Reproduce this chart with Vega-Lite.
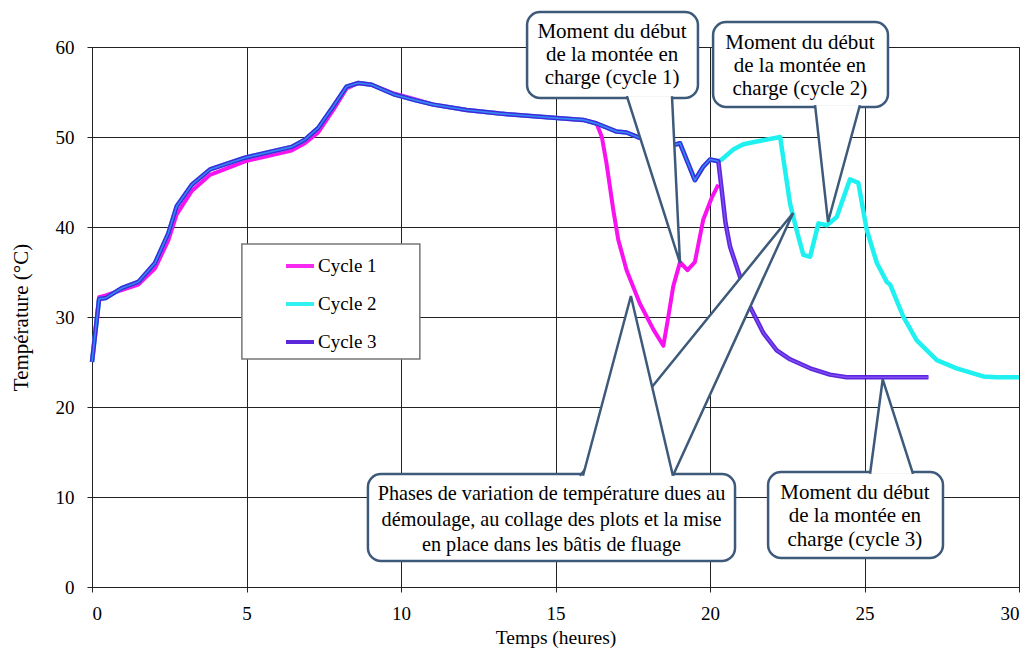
{
  "$schema": "https://vega.github.io/schema/vega-lite/v6.json",
  "width": 927,
  "height": 540,
  "autosize": "none",
  "padding": {"left": 92, "top": 47, "right": 10, "bottom": 68},
  "background": "white",
  "config": {
    "font": "Liberation Serif",
    "view": {"stroke": "#222"},
    "axis": {
      "labelFont": "Liberation Serif", "labelFontSize": 19, "labelColor": "#000",
      "titleFont": "Liberation Serif", "titleFontWeight": "normal", "titleColor": "#000",
      "gridColor": "#222", "gridWidth": 1, "gridOpacity": 1,
      "domainColor": "#222", "tickColor": "#222", "tickSize": 5
    }
  },
  "datasets": {
    "curves": [
      {"t":0,"temp":25.0,"cycle":"Cycle 1"},{"t":0.23,"temp":32.2,"cycle":"Cycle 1"},{"t":0.44,"temp":32.4,"cycle":"Cycle 1"},{"t":0.96,"temp":33.0,"cycle":"Cycle 1"},{"t":1.5,"temp":33.6,"cycle":"Cycle 1"},{"t":2.04,"temp":35.4,"cycle":"Cycle 1"},{"t":2.47,"temp":38.5,"cycle":"Cycle 1"},{"t":2.74,"temp":41.4,"cycle":"Cycle 1"},{"t":3.23,"temp":44.0,"cycle":"Cycle 1"},{"t":3.82,"temp":45.8,"cycle":"Cycle 1"},{"t":4.95,"temp":47.3,"cycle":"Cycle 1"},{"t":6.46,"temp":48.5,"cycle":"Cycle 1"},{"t":6.89,"temp":49.3,"cycle":"Cycle 1"},{"t":7.32,"temp":50.5,"cycle":"Cycle 1"},{"t":7.81,"temp":53.0,"cycle":"Cycle 1"},{"t":8.24,"temp":55.4,"cycle":"Cycle 1"},{"t":8.62,"temp":56.0,"cycle":"Cycle 1"},{"t":9.05,"temp":55.8,"cycle":"Cycle 1"},{"t":9.8,"temp":54.8,"cycle":"Cycle 1"},{"t":10.45,"temp":54.2,"cycle":"Cycle 1"},{"t":11.05,"temp":53.6,"cycle":"Cycle 1"},{"t":12.12,"temp":53.0,"cycle":"Cycle 1"},{"t":13.2,"temp":52.6,"cycle":"Cycle 1"},{"t":15.04,"temp":52.1,"cycle":"Cycle 1"},{"t":15.9,"temp":51.9,"cycle":"Cycle 1"},{"t":16.33,"temp":51.5,"cycle":"Cycle 1"},{"t":16.5,"temp":50.0,"cycle":"Cycle 1"},{"t":16.65,"temp":47.1,"cycle":"Cycle 1"},{"t":16.87,"temp":41.9,"cycle":"Cycle 1"},{"t":17.03,"temp":38.6,"cycle":"Cycle 1"},{"t":17.3,"temp":35.2,"cycle":"Cycle 1"},{"t":17.73,"temp":31.5,"cycle":"Cycle 1"},{"t":18.17,"temp":28.6,"cycle":"Cycle 1"},{"t":18.49,"temp":26.8,"cycle":"Cycle 1"},{"t":18.65,"temp":30.0,"cycle":"Cycle 1"},{"t":18.81,"temp":33.4,"cycle":"Cycle 1"},{"t":19.03,"temp":36.1,"cycle":"Cycle 1"},{"t":19.27,"temp":35.2,"cycle":"Cycle 1"},{"t":19.51,"temp":36.1,"cycle":"Cycle 1"},{"t":19.78,"temp":40.8,"cycle":"Cycle 1"},{"t":20.05,"temp":43.2,"cycle":"Cycle 1"},{"t":20.27,"temp":44.7,"cycle":"Cycle 1"},

      {"t":0,"temp":25.0,"cycle":"Cycle 2"},{"t":0.23,"temp":32.0,"cycle":"Cycle 2"},{"t":0.44,"temp":32.1,"cycle":"Cycle 2"},{"t":0.96,"temp":33.2,"cycle":"Cycle 2"},{"t":1.5,"temp":33.9,"cycle":"Cycle 2"},{"t":2.04,"temp":36.0,"cycle":"Cycle 2"},{"t":2.47,"temp":39.3,"cycle":"Cycle 2"},{"t":2.74,"temp":42.3,"cycle":"Cycle 2"},{"t":3.23,"temp":44.7,"cycle":"Cycle 2"},{"t":3.82,"temp":46.4,"cycle":"Cycle 2"},{"t":4.95,"temp":47.7,"cycle":"Cycle 2"},{"t":6.46,"temp":48.9,"cycle":"Cycle 2"},{"t":6.89,"temp":49.7,"cycle":"Cycle 2"},{"t":7.32,"temp":51.0,"cycle":"Cycle 2"},{"t":7.81,"temp":53.4,"cycle":"Cycle 2"},{"t":8.24,"temp":55.6,"cycle":"Cycle 2"},{"t":8.62,"temp":56.0,"cycle":"Cycle 2"},{"t":9.05,"temp":55.8,"cycle":"Cycle 2"},{"t":9.8,"temp":54.7,"cycle":"Cycle 2"},{"t":10.45,"temp":54.1,"cycle":"Cycle 2"},{"t":11.05,"temp":53.6,"cycle":"Cycle 2"},{"t":12.12,"temp":53.0,"cycle":"Cycle 2"},{"t":13.2,"temp":52.6,"cycle":"Cycle 2"},{"t":15.04,"temp":52.1,"cycle":"Cycle 2"},{"t":15.9,"temp":51.9,"cycle":"Cycle 2"},{"t":16.33,"temp":51.5,"cycle":"Cycle 2"},{"t":16.98,"temp":50.6,"cycle":"Cycle 2"},{"t":17.3,"temp":50.5,"cycle":"Cycle 2"},{"t":17.73,"temp":49.9,"cycle":"Cycle 2"},{"t":18.3,"temp":49.5,"cycle":"Cycle 2"},{"t":18.81,"temp":49.1,"cycle":"Cycle 2"},{"t":19.03,"temp":49.3,"cycle":"Cycle 2"},{"t":19.51,"temp":45.2,"cycle":"Cycle 2"},{"t":19.78,"temp":46.7,"cycle":"Cycle 2"},{"t":20.0,"temp":47.5,"cycle":"Cycle 2"},{"t":20.27,"temp":47.3,"cycle":"Cycle 2"},{"t":20.38,"temp":47.5,"cycle":"Cycle 2"},{"t":20.75,"temp":48.6,"cycle":"Cycle 2"},{"t":21.08,"temp":49.2,"cycle":"Cycle 2"},{"t":21.51,"temp":49.5,"cycle":"Cycle 2"},{"t":22.27,"temp":50.0,"cycle":"Cycle 2"},{"t":22.59,"temp":42.6,"cycle":"Cycle 2"},{"t":22.8,"temp":39.7,"cycle":"Cycle 2"},{"t":23.02,"temp":36.9,"cycle":"Cycle 2"},{"t":23.24,"temp":36.7,"cycle":"Cycle 2"},{"t":23.51,"temp":40.4,"cycle":"Cycle 2"},{"t":23.78,"temp":40.2,"cycle":"Cycle 2"},{"t":24.1,"temp":41.1,"cycle":"Cycle 2"},{"t":24.53,"temp":45.3,"cycle":"Cycle 2"},{"t":24.8,"temp":44.9,"cycle":"Cycle 2"},{"t":25.07,"temp":39.7,"cycle":"Cycle 2"},{"t":25.4,"temp":36.0,"cycle":"Cycle 2"},{"t":25.72,"temp":33.9,"cycle":"Cycle 2"},{"t":25.83,"temp":33.6,"cycle":"Cycle 2"},{"t":26.26,"temp":30.0,"cycle":"Cycle 2"},{"t":26.69,"temp":27.4,"cycle":"Cycle 2"},{"t":27.34,"temp":25.2,"cycle":"Cycle 2"},{"t":27.98,"temp":24.3,"cycle":"Cycle 2"},{"t":28.84,"temp":23.4,"cycle":"Cycle 2"},{"t":29.28,"temp":23.3,"cycle":"Cycle 2"},{"t":30,"temp":23.3,"cycle":"Cycle 2"},

      {"t":0,"temp":25.0,"cycle":"Cycle 3"},{"t":0.23,"temp":32.0,"cycle":"Cycle 3"},{"t":0.44,"temp":32.1,"cycle":"Cycle 3"},{"t":0.96,"temp":33.2,"cycle":"Cycle 3"},{"t":1.5,"temp":33.9,"cycle":"Cycle 3"},{"t":2.04,"temp":36.0,"cycle":"Cycle 3"},{"t":2.47,"temp":39.3,"cycle":"Cycle 3"},{"t":2.74,"temp":42.3,"cycle":"Cycle 3"},{"t":3.23,"temp":44.7,"cycle":"Cycle 3"},{"t":3.82,"temp":46.4,"cycle":"Cycle 3"},{"t":4.95,"temp":47.7,"cycle":"Cycle 3"},{"t":6.46,"temp":48.9,"cycle":"Cycle 3"},{"t":6.89,"temp":49.7,"cycle":"Cycle 3"},{"t":7.32,"temp":51.0,"cycle":"Cycle 3"},{"t":7.81,"temp":53.4,"cycle":"Cycle 3"},{"t":8.24,"temp":55.6,"cycle":"Cycle 3"},{"t":8.62,"temp":56.0,"cycle":"Cycle 3"},{"t":9.05,"temp":55.8,"cycle":"Cycle 3"},{"t":9.8,"temp":54.7,"cycle":"Cycle 3"},{"t":10.45,"temp":54.1,"cycle":"Cycle 3"},{"t":11.05,"temp":53.6,"cycle":"Cycle 3"},{"t":12.12,"temp":53.0,"cycle":"Cycle 3"},{"t":13.2,"temp":52.6,"cycle":"Cycle 3"},{"t":15.04,"temp":52.1,"cycle":"Cycle 3"},{"t":15.9,"temp":51.9,"cycle":"Cycle 3"},{"t":16.33,"temp":51.5,"cycle":"Cycle 3"},{"t":16.98,"temp":50.6,"cycle":"Cycle 3"},{"t":17.3,"temp":50.5,"cycle":"Cycle 3"},{"t":17.73,"temp":49.9,"cycle":"Cycle 3"},{"t":18.3,"temp":49.5,"cycle":"Cycle 3"},{"t":18.81,"temp":49.1,"cycle":"Cycle 3"},{"t":19.03,"temp":49.3,"cycle":"Cycle 3"},{"t":19.51,"temp":45.2,"cycle":"Cycle 3"},{"t":19.78,"temp":46.7,"cycle":"Cycle 3"},{"t":20.0,"temp":47.5,"cycle":"Cycle 3"},{"t":20.27,"temp":47.3,"cycle":"Cycle 3"},{"t":20.4,"temp":43.5,"cycle":"Cycle 3"},{"t":20.5,"temp":40.5,"cycle":"Cycle 3"},{"t":20.65,"temp":37.8,"cycle":"Cycle 3"},{"t":20.97,"temp":34.5,"cycle":"Cycle 3"},{"t":21.3,"temp":31.1,"cycle":"Cycle 3"},{"t":21.73,"temp":28.2,"cycle":"Cycle 3"},{"t":22.16,"temp":26.3,"cycle":"Cycle 3"},{"t":22.59,"temp":25.3,"cycle":"Cycle 3"},{"t":23.24,"temp":24.3,"cycle":"Cycle 3"},{"t":23.88,"temp":23.6,"cycle":"Cycle 3"},{"t":24.42,"temp":23.3,"cycle":"Cycle 3"},{"t":27.07,"temp":23.3,"cycle":"Cycle 3"}
    ],
    "legendFrame": [
      {"x1":4.85,"x2":10.61,"y1":38.11,"y2":25.33}
    ],
    "boxes": [
      {"id":"c1","x1":14.08,"x2":19.61,"y1":63.89,"y2":54.33},
      {"id":"c2","x1":20.10,"x2":25.76,"y1":62.78,"y2":53.33},
      {"id":"c3","x1":8.93,"x2":20.81,"y1":12.56,"y2":2.89},
      {"id":"c4","x1":21.88,"x2":27.54,"y1":12.78,"y2":3.22}
    ],
    "wedgesBack": [
      {"id":"w3b","seq":0,"x":15.79,"y":12.36},{"id":"w3b","seq":1,"x":22.69,"y":41.56},{"id":"w3b","seq":2,"x":18.80,"y":12.36}
    ],
    "wedges": [
      {"id":"w1","seq":0,"x":17.31,"y":54.53},{"id":"w1","seq":1,"x":19.03,"y":36.0},{"id":"w1","seq":2,"x":18.77,"y":54.53},
      {"id":"w2","seq":0,"x":23.40,"y":53.53},{"id":"w2","seq":1,"x":23.82,"y":40.56},{"id":"w2","seq":2,"x":24.85,"y":53.53},
      {"id":"w3a","seq":0,"x":15.89,"y":12.36},{"id":"w3a","seq":1,"x":17.44,"y":32.33},{"id":"w3a","seq":2,"x":18.80,"y":12.36},
      {"id":"w4","seq":0,"x":25.18,"y":12.58},{"id":"w4","seq":1,"x":25.59,"y":23.08},{"id":"w4","seq":2,"x":26.57,"y":12.58}
    ],
    "notes": [
      {"id":"c1","x":16.83,"y":61.7,"text":"Moment du début\nde la montée en\ncharge (cycle 1)"},
      {"id":"c2","x":22.91,"y":60.5,"text":"Moment du début\nde la montée en\ncharge (cycle 2)"},
      {"id":"c4","x":24.69,"y":10.44,"text":"Moment du début\nde la montée en\ncharge (cycle 3)"}
    ],
    "notesWide": [
      {"id":"c3","x":14.87,"y":10.33,"text":"Phases de variation de température dues au\ndémoulage, au collage des plots et la mise\nen place dans les bâtis de fluage"}
    ]
  },
  "layer": [
    {
      "data": {"name": "curves"},
      "transform": [{"filter": "datum.cycle == 'Cycle 1'"}],
      "mark": {"type": "line", "strokeWidth": 4, "strokeJoin": "round"},
      "encoding": {
        "x": {"field": "t", "type": "quantitative", "scale": {"domain": [0, 30], "nice": false},
              "axis": {"values": [0,5,10,15,20,25,30], "grid": true, "title": "Temps (heures)", "labelPadding": 12, "titleFontSize": 19.5,
                       "titleX": 463.5, "titleY": 50, "titleBaseline": "middle", "titleAlign": "center"}},
        "y": {"field": "temp", "type": "quantitative", "scale": {"domain": [0, 60], "nice": false},
              "axis": {"values": [0,10,20,30,40,50,60], "grid": true, "title": "Température (°C)", "labelPadding": 13, "titleFontSize": 21,
                       "titleX": -71, "titleY": 270, "titleAngle": -90, "titleBaseline": "middle", "titleAlign": "center"}},
        "color": {"field": "cycle", "type": "nominal",
                  "scale": {"domain": ["Cycle 1", "Cycle 2", "Cycle 3"], "range": ["#f812f0", "#1ff0f0", "#4a10d8"]},
                  "legend": {"title": null, "orient": "none", "legendX": 150, "legendY": 197,
                             "symbolType": "stroke", "symbolStrokeWidth": 4, "symbolSize": 784,
                             "labelFont": "Liberation Serif", "labelFontSize": 19, "labelColor": "#000",
                             "labelOffset": 2, "symbolOffset": 36, "padding": 6, "rowPadding": 12}}
      }
    },
    {
      "data": {"name": "curves"},
      "transform": [{"filter": "datum.cycle == 'Cycle 2'"}],
      "mark": {"type": "line", "strokeWidth": 4.5, "strokeJoin": "round"},
      "encoding": {
        "x": {"field": "t", "type": "quantitative"},
        "y": {"field": "temp", "type": "quantitative"},
        "color": {"field": "cycle", "type": "nominal"}
      }
    },
    {
      "data": {"name": "curves"},
      "transform": [{"filter": "datum.cycle == 'Cycle 3'"}],
      "mark": {"type": "line", "strokeWidth": 4.5, "strokeJoin": "round", "opacity": 0.9},
      "encoding": {
        "x": {"field": "t", "type": "quantitative"},
        "y": {"field": "temp", "type": "quantitative"},
        "color": {"field": "cycle", "type": "nominal"}
      }
    },
    {
      "data": {"name": "curves"},
      "transform": [{"filter": "datum.cycle == 'Cycle 3' && datum.t <= 20.27"}],
      "mark": {"type": "line", "strokeWidth": 1.6, "color": "#2f8af2"},
      "encoding": {
        "x": {"field": "t", "type": "quantitative"},
        "y": {"field": "temp", "type": "quantitative"}
      }
    },
    {
      "data": {"name": "curves"},
      "transform": [{"filter": "datum.cycle == 'Cycle 3' && datum.t >= 20.27"}],
      "mark": {"type": "line", "strokeWidth": 1.4, "color": "#7f4ff5"},
      "encoding": {
        "x": {"field": "t", "type": "quantitative"},
        "y": {"field": "temp", "type": "quantitative"}
      }
    },
    {
      "data": {"name": "legendFrame"},
      "mark": {"type": "rect", "fill": "white", "stroke": "#777", "strokeWidth": 1.5},
      "encoding": {
        "x": {"field": "x1", "type": "quantitative"},
        "x2": {"field": "x2"},
        "y": {"field": "y1", "type": "quantitative"},
        "y2": {"field": "y2"}
      }
    },
    {
      "data": {"name": "boxes"},
      "mark": {"type": "rect", "fill": "white", "stroke": "#3e5a7a", "strokeWidth": 2.5, "cornerRadius": 13},
      "encoding": {
        "x": {"field": "x1", "type": "quantitative"},
        "x2": {"field": "x2"},
        "y": {"field": "y1", "type": "quantitative"},
        "y2": {"field": "y2"}
      }
    },
    {
      "data": {"name": "wedgesBack"},
      "mark": {"type": "line", "fill": "white", "stroke": "#3e5a7a", "strokeWidth": 2.5, "strokeJoin": "miter"},
      "encoding": {
        "x": {"field": "x", "type": "quantitative"},
        "y": {"field": "y", "type": "quantitative"},
        "detail": {"field": "id"},
        "order": {"field": "seq", "type": "quantitative"}
      }
    },
    {
      "data": {"name": "wedges"},
      "mark": {"type": "line", "fill": "white", "stroke": "#3e5a7a", "strokeWidth": 2.5, "strokeJoin": "miter"},
      "encoding": {
        "x": {"field": "x", "type": "quantitative"},
        "y": {"field": "y", "type": "quantitative"},
        "detail": {"field": "id"},
        "order": {"field": "seq", "type": "quantitative"}
      }
    },
    {
      "data": {"name": "notes"},
      "mark": {"type": "text", "font": "Liberation Serif", "fontSize": 21, "lineBreak": "\n", "lineHeight": 23.3, "align": "center", "baseline": "middle", "color": "#000"},
      "encoding": {
        "x": {"field": "x", "type": "quantitative"},
        "y": {"field": "y", "type": "quantitative"},
        "text": {"field": "text"}
      }
    },
    {
      "data": {"name": "notesWide"},
      "mark": {"type": "text", "font": "Liberation Serif", "fontSize": 20.2, "lineBreak": "\n", "lineHeight": 25.5, "align": "center", "baseline": "middle", "color": "#000"},
      "encoding": {
        "x": {"field": "x", "type": "quantitative"},
        "y": {"field": "y", "type": "quantitative"},
        "text": {"field": "text"}
      }
    }
  ]
}
